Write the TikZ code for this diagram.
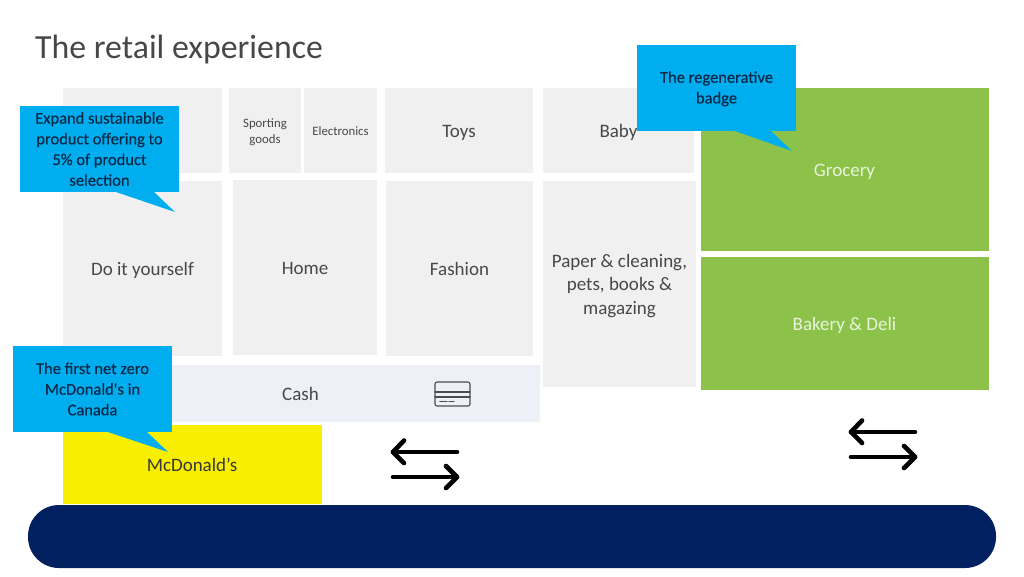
\documentclass[tikz,border=0pt]{standalone}
\usepackage{fontspec}
\setmainfont{Carlito}
\newfontfamily\calloutfont[FakeBold=0.4]{Carlito}
\definecolor{tilegrey}{HTML}{F0F0F1}
\definecolor{cashblue}{HTML}{EEF0F8}
\definecolor{groceryg}{HTML}{8CC24A}
\definecolor{mcdy}{HTML}{F8EE00}
\definecolor{callblue}{HTML}{00AEEF}
\definecolor{navybar}{HTML}{002060}
\definecolor{bodytxt}{HTML}{484848}
\definecolor{calltxt}{HTML}{0B2A4A}
\newcommand{\apos}{\symbol{39}}
\tikzset{
  tile/.style={fill=tilegrey,inner sep=0pt},
  greentile/.style={tile,fill=groceryg},
  tiletext/.style={inner sep=0pt,text=bodytxt,align=center,font=\fontsize{19}{23.5}\selectfont},
  smalltext/.style={tiletext,font=\fontsize{12.8}{15.5}\selectfont},
  greentext/.style={tiletext,text=white!80!groceryg},
  callout/.style={fill=callblue,inner sep=0pt,text=calltxt,align=center,font=\calloutfont\fontsize{16.5}{20.7}\selectfont},
  calltail/.style={fill=callblue,draw=none},
  swaparrow/.style={draw=black,line width=4.6pt,line cap=round,line join=round},
  cardline/.style={draw=black!70,line width=1.1pt,line cap=round}
}
\begin{document}
\begin{tikzpicture}[x=1pt,y=-1pt]
\useasboundingbox (0,0) rectangle (1024,576);
\fill[white] (0,0) rectangle (1024,576);
\node[anchor=base west,inner sep=0pt,text=black!72,font=\fontsize{33.8}{36}\selectfont] (title) at (35,58) {The retail experience};
% tiles
\node[tile,minimum width=159pt,minimum height=85pt] (t0) at (142.5,130.5) {};
\node[tile,minimum width=72pt,minimum height=85pt] (sport) at (265,130.5) {};
\node[smalltext] (sportT) at (265,132) {Sporting\\goods};
\node[tile,minimum width=73pt,minimum height=85pt] (elec) at (340.5,130.5) {};
\node[smalltext] (elecT) at (340.5,131.5) {Electronics};
\node[tile,minimum width=148pt,minimum height=85pt] (toys) at (459,130.5) {};
\node[tiletext] (toysT) at (459,133) {Toys};
\node[tile,minimum width=151pt,minimum height=85pt] (baby) at (618.5,130.5) {};
\node[tiletext] (babyT) at (618.5,132.5) {Baby};
\node[tile,minimum width=159pt,minimum height=175pt] (diy) at (142.5,268.5) {};
\node[tiletext] (diyT) at (142.5,270.5) {Do it yourself};
\node[tile,minimum width=144pt,minimum height=175pt] (home) at (305,267.5) {};
\node[tiletext] (homeT) at (305,268.5) {Home};
\node[tile,minimum width=147pt,minimum height=175pt] (fashion) at (459.5,268.5) {};
\node[tiletext] (fashionT) at (459.5,268.5) {Fashion};
\node[tile,minimum width=153pt,minimum height=206pt] (paper) at (619.5,284) {};
\node[tiletext] (paperT) at (619.5,286) {Paper \& cleaning,\\pets, books \&\\magazing};
\node[greentile,minimum width=288pt,minimum height=163pt] (grocery) at (845,169.5) {};
\node[greentext] (groceryT) at (844.5,172) {Grocery};
\node[greentile,minimum width=288pt,minimum height=133pt] (bakery) at (845,323.5) {};
\node[greentext] (bakeryT) at (844.5,325.5) {Bakery \& Deli};
\node[tile,fill=cashblue,minimum width=477pt,minimum height=57pt] (cash) at (301.5,393.5) {};
\node[tiletext] (cashT) at (300.5,394) {Cash};
\node[tile,fill=mcdy,minimum width=259pt,minimum height=79pt] (mcd) at (192.5,464.5) {};
\node[tiletext,text=black!78] (mcdT) at (192,464.5) {McDonald\apos s};
% bottom bar
\node[fill=navybar,inner sep=0pt,rounded corners=31pt,minimum width=968pt,minimum height=63pt] (bar) at (512,536.5) {};
% card icon
\node[draw=black!70,line width=1.1pt,rounded corners=2pt,inner sep=0pt,minimum width=35pt,minimum height=24pt] (card) at (452.5,394) {};
\draw[cardline] (435,392) -- (470,392);
\draw[cardline] (435,397) -- (470,397);
\draw[cardline] (440,401.5) -- (447,401.5);
\draw[cardline] (449,401.5) -- (454,401.5);
% swap arrows
\draw[swaparrow] (457,452) -- (393,452);
\draw[swaparrow] (404,440.5) -- (393,452) -- (404,463);
\draw[swaparrow] (393,477) -- (457,477);
\draw[swaparrow] (446,466) -- (457,477) -- (446,488);
\draw[swaparrow] (915,432) -- (851,432);
\draw[swaparrow] (862,420.5) -- (851,432) -- (862,443);
\draw[swaparrow] (851,457) -- (915,457);
\draw[swaparrow] (904,446) -- (915,457) -- (904,468);
% callouts
\fill[calltail] (113,191) -- (175,212) -- (153,191) -- cycle;
\node[callout,minimum width=159pt,minimum height=86pt] (c1) at (99.5,149) {Expand sustainable\\product offering to\\5\% of product\\selection};
\fill[calltail] (105,431) -- (168,452) -- (146,431) -- cycle;
\node[callout,minimum width=159pt,minimum height=86pt] (c2) at (92.5,389) {The first net zero\\McDonald\apos s in\\Canada};
\fill[calltail] (732,130) -- (792,151) -- (770,130) -- cycle;
\node[callout,minimum width=159pt,minimum height=86pt] (c3) at (716.5,88) {\rule{0pt}{13pt}The regenerative\\badge};
\end{tikzpicture}
\end{document}
